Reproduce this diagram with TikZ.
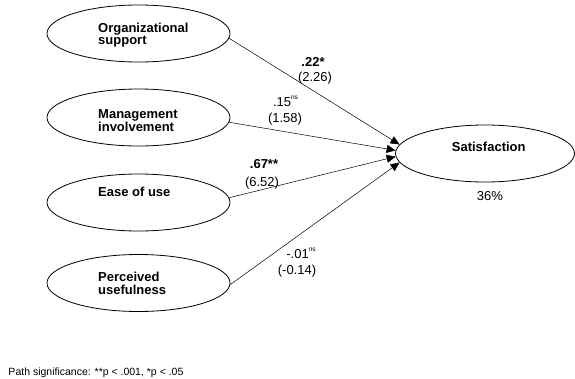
\documentclass[tikz,border=0pt]{standalone}
\usepackage{fontspec}
\setmainfont{Liberation Sans}
\usetikzlibrary{shapes.geometric,arrows.meta}
\newcommand{\nsmark}{\raisebox{7pt}{\fontsize{6.5}{6.5}\selectfont ns}}

\begin{document}
\begin{tikzpicture}[x=1pt,y=1pt,yscale=-1,xscale=1,
        construct/.style={draw,ellipse,line width=0.8pt,minimum width=183pt,minimum height=57pt,inner sep=0pt},
        constructtext/.style={anchor=north west,inner sep=0pt,align=left,font=\fontsize{13}{12.7}\selectfont\bfseries},
        coef/.style={anchor=base,inner sep=0pt,font=\fontsize{13}{13}\selectfont},
        effect/.style={line width=0.5pt,-{Triangle[length=9pt,width=8pt]}}]
        \useasboundingbox (0,0) rectangle (575,378);

        %Shape: Ellipse [id:org]
        \node [construct] (org) at (138.5,33.5) {};
        \node [constructtext] (orgtext) at (98,22.4) {Organizational\\support};
        %Shape: Ellipse [id:mgmt]
        \node [construct] (mgmt) at (138.5,117.5) {};
        \node [constructtext] (mgmttext) at (98,109.7) {Management\\involvement};
        %Shape: Ellipse [id:ease]
        \node [construct] (ease) at (138.5,202.5) {};
        \node [constructtext] (easetext) at (98,186.7) {Ease of use};
        %Shape: Ellipse [id:useful]
        \node [construct] (useful) at (138.5,283) {};
        \node [constructtext] (usefultext) at (98,271.7) {Perceived\\usefulness};
        %Shape: Ellipse [id:sat]
        \node [construct,minimum width=179pt] (sat) at (485,153.5) {};
        \node [constructtext] (sattext) at (451.7,141.7) {Satisfaction};

        %Paths
        \draw [effect] (org.-3) -- (sat.174);
        \draw [effect] (mgmt.-3) -- (sat.178);
        \draw [effect] (ease.3) -- (sat.182);
        \draw [effect] (useful.-1) -- (sat.186);

        % Text Node
        \node [coef,font=\fontsize{13}{13}\selectfont\bfseries] (orgcoef) at (313,66) {.22*};
        \node [coef] (orgt) at (315,81.7) {(2.26)};
        \node [coef] (mgmtcoef) at (285.5,106.7) {.15\nsmark};
        \node [coef] (mgmtt) at (285,122.7) {(1.58)};
        \node [coef,font=\fontsize{13}{13}\selectfont\bfseries] (easecoef) at (264,168.3) {.67**};
        \node [coef] (easet) at (262,186.7) {(6.52)};
        \node [coef] (usefulcoef) at (301,258.3) {-.01\nsmark};
        \node [coef] (usefult) at (297,274.3) {(-0.14)};
        \node [coef] (rsq) at (490,200) {36\%};

        % Text Node
        \node [anchor=base west,inner sep=0pt,font=\fontsize{10.5}{10.5}\selectfont] (note) at (8.3,375.5) {Path significance: **p < .001, *p < .05};

\end{tikzpicture}
\end{document}
